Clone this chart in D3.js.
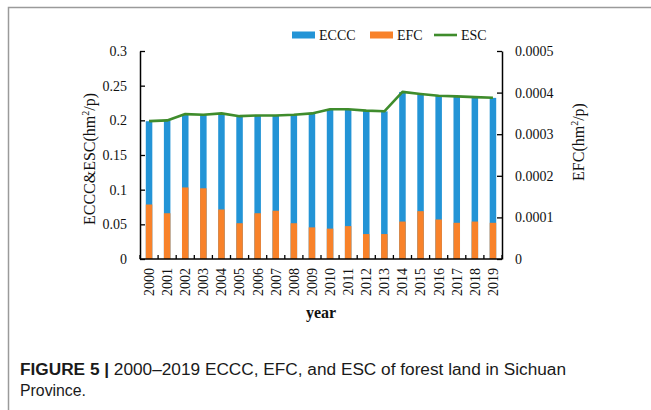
<!DOCTYPE html>
<html>
<head>
<meta charset="utf-8">
<script src="https://cdn.jsdelivr.net/npm/d3@7"></script>
<style>
  html, body { margin: 0; padding: 0; background: #fff; }
  svg { display: block; }
</style>
</head>
<body>
<svg id="chart" width="651" height="410"></svg>
<script>
// Forest land in Sichuan, 2000–2019
const years = ["2000","2001","2002","2003","2004","2005","2006","2007","2008","2009",
               "2010","2011","2012","2013","2014","2015","2016","2017","2018","2019"];
// ECCC (hm²/p), left axis
const ecccValues = [0.1987, 0.1998, 0.2088, 0.2078, 0.2099, 0.2059, 0.2069, 0.2069, 0.2079, 0.2099,
                    0.2159, 0.2159, 0.2139, 0.2129, 0.2409, 0.2379, 0.2354, 0.2344, 0.2334, 0.2324];
// EFC (hm²/p), right axis
const efcValues = [0.000131, 0.000110, 0.000172, 0.000170, 0.000119, 0.000086, 0.000110, 0.000116, 0.000086, 0.000076,
                   0.000073, 0.000079, 0.000060, 0.000060, 0.000090, 0.000115, 0.000095, 0.000087, 0.000090, 0.000087];
// ESC (hm²/p), left axis
const escValues = [0.1988, 0.1999, 0.2090, 0.2080, 0.2100, 0.2060, 0.2070, 0.2070, 0.2080, 0.2100,
                   0.2160, 0.2160, 0.2140, 0.2130, 0.2410, 0.2380, 0.2355, 0.2345, 0.2335, 0.2325];
const leftTicks = [0, 0.05, 0.1, 0.15, 0.2, 0.25, 0.3];
const rightTicks = [0, 0.0001, 0.0002, 0.0003, 0.0004, 0.0005];
const seriesNames = ["ECCC", "EFC", "ESC"];

const colors = { eccc: "#2394d6", efc: "#f8822a", esc: "#3f8c2c" };
const serif = "'Liberation Serif', 'Times New Roman', serif";
const sans = "'Liberation Sans', Arial, Helvetica, sans-serif";

const svg = d3.select("#chart");

// figure frame (top and left rules)
svg.append("path")
  .attr("d", "M8.5,410 V7.5 H651")
  .attr("fill", "none")
  .attr("stroke", "#9a9a9a")
  .attr("stroke-width", 1.5);

const plot = { left: 140, right: 502, top: 51, bottom: 259 };

const x = d3.scaleBand().domain(years)
  .range([plot.left, plot.right])
  .paddingInner(0.64).paddingOuter(0.32);
const y = d3.scaleLinear().domain([0, 0.3]).range([plot.bottom, plot.top]);
const yR = d3.scaleLinear().domain([0, 0.0005]).range([plot.bottom, plot.top]);

const data = years.map((yr, i) => ({ year: yr, eccc: ecccValues[i], efc: efcValues[i], esc: escValues[i] }));

// ECCC bars
svg.append("g").selectAll("rect").data(data).join("rect")
  .attr("x", d => x(d.year))
  .attr("width", x.bandwidth())
  .attr("y", d => y(d.eccc))
  .attr("height", d => y(0) - y(d.eccc))
  .attr("fill", colors.eccc);

// EFC bars on the secondary axis, drawn over ECCC
svg.append("g").selectAll("rect").data(data).join("rect")
  .attr("x", d => x(d.year))
  .attr("width", x.bandwidth())
  .attr("y", d => yR(d.efc))
  .attr("height", d => yR(0) - yR(d.efc))
  .attr("fill", colors.efc);

// ESC line
svg.append("path").datum(data)
  .attr("fill", "none")
  .attr("stroke", colors.esc)
  .attr("stroke-width", 2.6)
  .attr("stroke-linejoin", "round")
  .attr("d", d3.line().x(d => x(d.year) + x.bandwidth() / 2).y(d => y(d.esc)));

// left axis
const fmt = d => String(+d.toFixed(4));
const gL = svg.append("g").attr("transform", `translate(${plot.left},0)`)
  .call(d3.axisLeft(y).tickValues(leftTicks).tickFormat(fmt).tickSizeInner(-5).tickSizeOuter(0).tickPadding(13));
// right axis
const gR = svg.append("g").attr("transform", `translate(${plot.right},0)`)
  .call(d3.axisRight(yR).tickValues(rightTicks).tickFormat(fmt).tickSizeInner(-5).tickSizeOuter(0).tickPadding(13));

[gL, gR].forEach(g => {
  g.select(".domain").attr("stroke", "#000").attr("stroke-width", 1.5);
  g.selectAll(".tick line").attr("stroke", "#000").attr("stroke-width", 1.3);
  g.selectAll(".tick text").attr("font-family", serif).attr("font-size", 14).attr("fill", "#111");
});

// bottom axis: category labels rotated, ticks between categories
const gB = svg.append("g").attr("transform", `translate(0,${plot.bottom})`)
  .call(d3.axisBottom(x).tickSize(0).tickPadding(0));
gB.select(".domain").remove();
gB.append("line")
  .attr("x1", plot.left).attr("x2", plot.right)
  .attr("stroke", "#000").attr("stroke-width", 1.5);
gB.selectAll(".tick text")
  .attr("font-family", serif).attr("font-size", 14).attr("fill", "#111")
  .attr("transform", "rotate(-90)")
  .attr("text-anchor", "end")
  .attr("dy", "0.35em")
  .attr("x", -9)
  .attr("y", 0);
const boundaries = years.map(yr => x(yr) + x.bandwidth() / 2 - x.step() / 2)
  .concat([x(years[years.length - 1]) + x.bandwidth() / 2 + x.step() / 2]);
gB.selectAll("line.sep").data(boundaries).join("line")
  .attr("class", "sep")
  .attr("x1", d => d).attr("x2", d => d)
  .attr("y1", 0).attr("y2", -4)
  .attr("stroke", "#000").attr("stroke-width", 1.3);

// axis titles
svg.append("text")
  .attr("x", (plot.left + plot.right) / 2).attr("y", 318)
  .attr("text-anchor", "middle")
  .attr("font-family", serif).attr("font-size", 16).attr("font-weight", "bold")
  .attr("fill", "#111")
  .text("year");

const leftTitle = svg.append("text")
  .attr("transform", "translate(95,159) rotate(-90)")
  .attr("text-anchor", "middle")
  .attr("font-family", serif).attr("font-size", 16).attr("fill", "#111");
leftTitle.append("tspan").text("ECCC&ESC(hm");
leftTitle.append("tspan").attr("font-size", 10).attr("dy", -6).text("2");
leftTitle.append("tspan").attr("dy", 6).text("/p)");

const rightTitle = svg.append("text")
  .attr("transform", "translate(584,142) rotate(-90)")
  .attr("text-anchor", "middle")
  .attr("font-family", serif).attr("font-size", 16).attr("fill", "#111");
rightTitle.append("tspan").text("EFC(hm");
rightTitle.append("tspan").attr("font-size", 10).attr("dy", -6).text("2");
rightTitle.append("tspan").attr("dy", 6).text("/p)");

// legend
const legend = svg.append("g").attr("font-family", serif).attr("font-size", 14).attr("fill", "#111");
const legendX = [292, 370, 434];
seriesNames.forEach((name, i) => {
  const gx = legendX[i];
  if (name === "ESC") {
    legend.append("line").attr("x1", gx).attr("x2", gx + 23).attr("y1", 35).attr("y2", 35)
      .attr("stroke", colors.esc).attr("stroke-width", 2.6);
  } else {
    legend.append("rect").attr("x", gx).attr("y", 31.5).attr("width", 23).attr("height", 7)
      .attr("fill", name === "ECCC" ? colors.eccc : colors.efc);
  }
  legend.append("text").attr("x", gx + 27).attr("y", 40).text(name);
});

// caption
const cap1 = svg.append("text").attr("x", 20).attr("y", 374.5)
  .attr("font-family", sans).attr("font-size", 16).attr("fill", "#1a1a1a");
cap1.append("tspan").attr("font-weight", "bold").text("FIGURE 5 | ");
cap1.append("tspan").text("2000–2019 ECCC, EFC, and ESC of forest land in Sichuan");
cap1.attr("textLength", 546).attr("lengthAdjust", "spacingAndGlyphs");
svg.append("text").attr("x", 20).attr("y", 395.5)
  .attr("font-family", sans).attr("font-size", 16).attr("fill", "#1a1a1a")
  .attr("textLength", 66).attr("lengthAdjust", "spacingAndGlyphs")
  .text("Province.");
</script>
</body>
</html>
